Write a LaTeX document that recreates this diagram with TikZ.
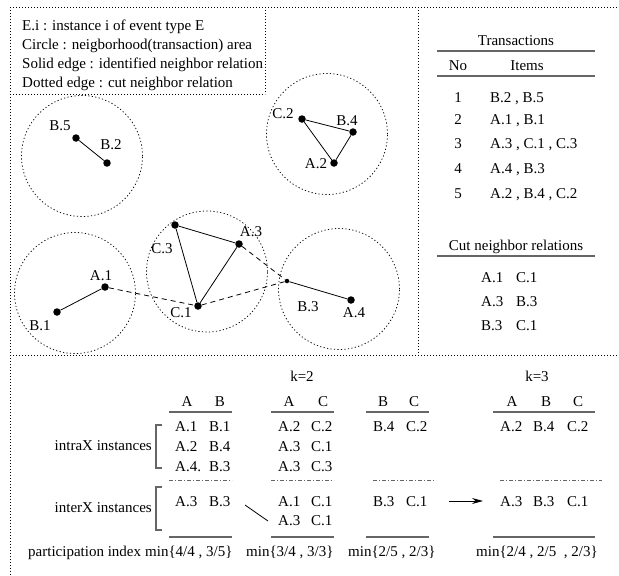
\documentclass[tikz,border=0pt]{standalone}
\usepackage{fontspec}
\setmainfont{Liberation Serif}
\usetikzlibrary{arrows.meta}
\begin{document}
\begin{tikzpicture}[x=1pt,y=-1pt,
  every node/.style={inner sep=0pt,font=\fontsize{15}{18}\selectfont},
  frame/.style={line width=0.85pt,dash pattern=on 1pt off 2pt},
  area/.style={circle,draw,line width=0.75pt,dash pattern=on 1.2pt off 2.3pt,minimum size=121pt},
  dot/.style={circle,fill=black,minimum size=7.5pt},
  smalldot/.style={circle,fill=black,minimum size=4.5pt},
  edge/.style={line width=0.8pt},
  cut/.style={line width=0.8pt,dash pattern=on 5pt off 4pt},
  lbl/.style={anchor=center},
  txt/.style={anchor=base west},
  ctr/.style={anchor=base},
  rule/.style={draw=black!60,line width=1.1pt},
  ddrule/.style={draw=black!60,line width=1pt,dash pattern=on 4pt off 2pt on 1pt off 2pt},
  brk/.style={draw=black!60,line width=1.1pt}
]
\useasboundingbox (0,0) rectangle (619,576);
% frames
\draw[frame] (10,7) -- (619,7);
\draw[frame] (10,7) -- (10,576);
\draw[frame] (10,94) -- (265,94);
\draw[frame] (265,7) -- (265,94);
\draw[frame] (418,7) -- (418,355);
\draw[frame] (10,355) -- (619,355);
% legend
\node[txt] (lg1) at (22,30.5) {E.i : instance i of event type E};
\node[txt] (lg2) at (22,49.3) {Circle : neigborhood(transaction) area};
\node[txt] (lg3) at (22,68.2) {Solid edge : identified neighbor relation};
\node[txt] (lg4) at (22,87) {Dotted edge : cut neighbor relation};
% neighborhood areas
\node[area] (c1) at (82,156) {};
\node[area] (c2) at (327,134) {};
\node[area] (c3) at (207,271.5) {};
\node[area] (c4) at (75,293) {};
\node[area] (c5) at (339,289) {};
% instances
\node[dot] (B5) at (76,138) {};
\node[dot] (B2) at (107,163) {};
\node[dot] (C2) at (302,119) {};
\node[dot] (B4) at (353,132) {};
\node[dot] (A2) at (334,163) {};
\node[dot] (C3) at (175,225) {};
\node[dot] (A3) at (239,244) {};
\node[dot] (C1) at (198,306) {};
\node[dot] (A1) at (105,287) {};
\node[dot] (B1) at (57,312) {};
\node[smalldot] (B3) at (287,281) {};
\node[dot] (A4) at (351,300) {};
% labels
\node[lbl] (lB5) at (60,126) {B.5};
\node[lbl] (lB2) at (111,145) {B.2};
\node[lbl] (lC2) at (283,114) {C.2};
\node[lbl] (lB4) at (347,121) {B.4};
\node[lbl] (lA2) at (316,164) {A.2};
\node[lbl] (lC3) at (162,249) {C.3};
\node[lbl] (lA3) at (251,232) {A.3};
\node[lbl] (lC1) at (181,313) {C.1};
\node[lbl] (lA1) at (101,276) {A.1};
\node[lbl] (lB1) at (40,326) {B.1};
\node[lbl] (lB3) at (308,307) {B.3};
\node[lbl] (lA4) at (354,313) {A.4};
% edges
\draw[edge] (B5) -- (B2);
\draw[edge] (C2) -- (B4);
\draw[edge] (B4) -- (A2);
\draw[edge] (A2) -- (C2);
\draw[edge] (C3) -- (A3);
\draw[edge] (A3) -- (C1);
\draw[edge] (C1) -- (C3);
\draw[edge] (A1) -- (B1);
\draw[edge] (B3) -- (A4);
\draw[cut] (A1) -- (C1);
\draw[cut] (A3) -- (B3);
\draw[cut] (C1) -- (B3);
% transactions table
\node[ctr] (tt) at (516,45) {Transactions};
\draw[rule] (437,51) -- (595,51);
\node[ctr] (tno) at (458,70) {No};
\node[ctr] (titems) at (527,70) {Items};
\draw[rule] (437,76) -- (595,76);
\node[ctr] (n1) at (458,102) {1};
\node[txt] (i1) at (490,102) {B.2 , B.5};
\node[ctr] (n2) at (458,124) {2};
\node[txt] (i2) at (490,124) {A.1 , B.1};
\node[ctr] (n3) at (458,148.5) {3};
\node[txt] (i3) at (490,148.5) {A.3 , C.1 , C.3};
\node[ctr] (n4) at (458,173.5) {4};
\node[txt] (i4) at (490,173.5) {A.4 , B.3};
\node[ctr] (n5) at (458,198) {5};
\node[txt] (i5) at (490,198) {A.2 , B.4 , C.2};
% cut neighbor relations
\node[ctr] (ct) at (516,250) {Cut neighbor relations};
\draw[rule] (437,256) -- (595,256);
\node[txt] (r1a) at (481,282) {A.1};
\node[txt] (r1b) at (516,282) {C.1};
\node[txt] (r2a) at (481,306) {A.3};
\node[txt] (r2b) at (516,306) {B.3};
\node[txt] (r3a) at (481,330) {B.3};
\node[txt] (r3b) at (516,330) {C.1};
% bottom section
\node[ctr] (k2) at (302,381) {k=2};
\node[ctr] (k3) at (537,381) {k=3};
% headers
\node[ctr] (h1a) at (187,406) {A};
\node[ctr] (h1b) at (220,406) {B};
\node[ctr] (h2a) at (289,406) {A};
\node[ctr] (h2c) at (323,406) {C};
\node[ctr] (h3b) at (383,406) {B};
\node[ctr] (h3c) at (414,406) {C};
\node[ctr] (h4a) at (512,406) {A};
\node[ctr] (h4b) at (546,406) {B};
\node[ctr] (h4c) at (578,406) {C};
\draw[rule] (169,412) -- (232,412);
\draw[rule] (271,412) -- (334,412);
\draw[rule] (366,412) -- (429,412);
\draw[rule] (493,412) -- (595,412);
% intra rows
\node[txt] (t1r1a) at (175,431.5) {A.1};
\node[txt] (t1r1b) at (209,431.5) {B.1};
\node[txt] (t1r2a) at (175,451.5) {A.2};
\node[txt] (t1r2b) at (209,451.5) {B.4};
\node[txt] (t1r3a) at (175,471) {A.4.};
\node[txt] (t1r3b) at (209,471) {B.3};
\node[txt] (t2r1a) at (278,431.5) {A.2};
\node[txt] (t2r1c) at (311,431.5) {C.2};
\node[txt] (t2r2a) at (278,451.5) {A.3};
\node[txt] (t2r2c) at (311,451.5) {C.1};
\node[txt] (t2r3a) at (278,471) {A.3};
\node[txt] (t2r3c) at (311,471) {C.3};
\node[txt] (t3r1b) at (373,431.5) {B.4};
\node[txt] (t3r1c) at (406,431.5) {C.2};
\node[txt] (t4r1a) at (500,431.5) {A.2};
\node[txt] (t4r1b) at (533,431.5) {B.4};
\node[txt] (t4r1c) at (567,431.5) {C.2};
% dash-dot separators
\draw[ddrule] (169,480) -- (232,480);
\draw[ddrule] (271,480) -- (334,480);
\draw[ddrule] (373,480) -- (436,480);
\draw[ddrule] (500,480) -- (602,480);
% inter rows
\node[txt] (u1a) at (175,506) {A.3};
\node[txt] (u1b) at (209,506) {B.3};
\node[txt] (u2a) at (278,506) {A.1};
\node[txt] (u2c) at (311,506) {C.1};
\node[txt] (v2a) at (278,525) {A.3};
\node[txt] (v2c) at (311,525) {C.1};
\node[txt] (u3b) at (373,506) {B.3};
\node[txt] (u3c) at (406,506) {C.1};
\node[txt] (u4a) at (500,506) {A.3};
\node[txt] (u4b) at (533,506) {B.3};
\node[txt] (u4c) at (567,506) {C.1};
% bottom rules
\draw[rule] (169,537) -- (232,537);
\draw[rule] (271,537) -- (334,537);
\draw[rule] (366,537) -- (429,537);
\draw[rule] (493,537) -- (595,537);
% row labels and brackets
\node[anchor=base east] (intra) at (152,450) {intraX instances};
\node[anchor=base east] (inter) at (152,512) {interX instances};
\draw[brk] (162,425) -- (156,425) -- (156,468) -- (162,468);
\draw[brk] (162,487) -- (156,487) -- (156,530) -- (162,530);
% connectors
\coordinate (d1) at (245,505);
\coordinate (d2) at (268,521);
\draw[line width=0.8pt] (d1) -- (d2);
\coordinate (ar1) at (449,501);
\coordinate (ar2) at (483,501);
\draw[line width=0.9pt,-{Stealth[length=11pt,width=6pt]}] (ar1) -- (ar2);
% participation index
\node[txt] (pi) at (28,556.5) {participation index};
\node[txt] (p1) at (145,556.5) {min\{4/4 , 3/5\}};
\node[txt] (p2) at (246,556.5) {min\{3/4 , 3/3\}};
\node[txt] (p3) at (348,556.5) {min\{2/5 , 2/3\}};
\node[txt] (p4) at (476,556.5) {min\{2/4 , 2/5 \ , 2/3\}};
\end{tikzpicture}
\end{document}
